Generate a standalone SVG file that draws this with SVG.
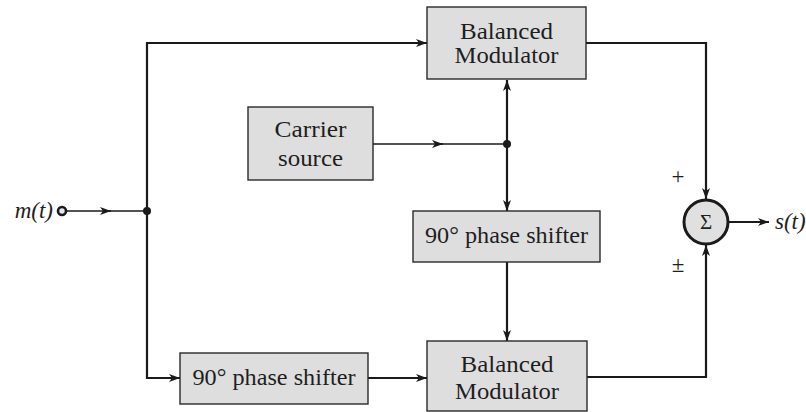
<svg xmlns="http://www.w3.org/2000/svg" width="806" height="412" viewBox="0 0 806 412">
  <style>
    .box { fill: #dedede; stroke: #2a2a2a; stroke-width: 1.4; }
    .lbl { font-family: "Liberation Serif", "Times New Roman", serif; font-size: 23px; fill: #1e1e1e; text-anchor: middle; }
    .sig { font-family: "Liberation Serif", "Times New Roman", serif; font-size: 23px; font-style: italic; fill: #1e1e1e; }
    .sign { font-family: "Liberation Serif", "Times New Roman", serif; font-size: 23px; fill: #1e1e1e; text-anchor: middle; }
    .wire { fill: none; stroke: #1a1a1a; stroke-width: 2.2; }
    .thin { fill: none; stroke: #1a1a1a; stroke-width: 1.4; }
    .dot { fill: #1a1a1a; }
  </style>
  <defs>
    <marker id="arrow" markerUnits="userSpaceOnUse" markerWidth="12" markerHeight="9" refX="11" refY="4" orient="auto">
      <path d="M0,0 L11,4 L0,8 L3,4 z" fill="#1a1a1a"/>
    </marker>
  </defs>

  <!-- connectors -->
  <g id="connectors">
    <!-- input line with mid arrow -->
    <path class="thin" d="M67,211 L111,211" marker-end="url(#arrow)"/>
    <path class="thin" d="M108,211 L147,211"/>
    <!-- upper branch to top modulator -->
    <path class="wire" d="M147,211 L147,43 L427,43" marker-end="url(#arrow)"/>
    <!-- lower branch to bottom phase shifter -->
    <path class="wire" d="M147,211 L147,378 L180,378" marker-end="url(#arrow)"/>
    <!-- bottom phase shifter to bottom modulator -->
    <path class="wire" d="M368,378 L427,378" marker-end="url(#arrow)"/>
    <!-- carrier line with mid arrow -->
    <path class="thin" d="M373,144 L443,144" marker-end="url(#arrow)"/>
    <path class="thin" d="M440,144 L507,144"/>
    <!-- carrier up to top modulator, down to middle phase shifter -->
    <path class="wire" d="M507,144 L507,80" marker-end="url(#arrow)"/>
    <path class="wire" d="M507,144 L507,211" marker-end="url(#arrow)"/>
    <!-- middle phase shifter to bottom modulator -->
    <path class="wire" d="M507,262 L507,341" marker-end="url(#arrow)"/>
    <!-- modulator outputs to summer -->
    <path class="wire" d="M586,43 L706,43 L706,199" marker-end="url(#arrow)"/>
    <path class="wire" d="M587,377 L706,377 L706,245" marker-end="url(#arrow)"/>
    <!-- summer output -->
    <path class="wire" d="M729,222 L769,222" marker-end="url(#arrow)"/>
    <!-- junction dots -->
    <circle class="dot" cx="147" cy="211" r="4"/>
    <circle class="dot" cx="507" cy="144" r="4"/>
  </g>

  <!-- input terminal -->
  <g id="input">
    <text class="sig" x="53" y="218" text-anchor="end">m(t)</text>
    <circle cx="62" cy="211" r="4" fill="#e6e6e6" stroke="#1a1a1a" stroke-width="2.6"/>
  </g>

  <g id="top-modulator">
    <rect class="box" x="427" y="7" width="159" height="72"/>
    <text class="lbl" x="506.5" y="39" textLength="93" lengthAdjust="spacingAndGlyphs">Balanced</text>
    <text class="lbl" x="506.5" y="63" textLength="104" lengthAdjust="spacingAndGlyphs">Modulator</text>
  </g>

  <g id="carrier-source">
    <rect class="box" x="248" y="107" width="125" height="73"/>
    <text class="lbl" x="310.5" y="137" textLength="72" lengthAdjust="spacingAndGlyphs">Carrier</text>
    <text class="lbl" x="310.5" y="166" textLength="65" lengthAdjust="spacingAndGlyphs">source</text>
  </g>

  <g id="mid-phase-shifter">
    <rect class="box" x="413" y="211" width="187" height="51"/>
    <text class="lbl" x="506.5" y="243" textLength="163" lengthAdjust="spacingAndGlyphs">90° phase shifter</text>
  </g>

  <g id="low-phase-shifter">
    <rect class="box" x="180" y="353" width="188" height="51"/>
    <text class="lbl" x="274" y="385" textLength="163" lengthAdjust="spacingAndGlyphs">90° phase shifter</text>
  </g>

  <g id="bottom-modulator">
    <rect class="box" x="427" y="341" width="160" height="70"/>
    <text class="lbl" x="507" y="372" textLength="93" lengthAdjust="spacingAndGlyphs">Balanced</text>
    <text class="lbl" x="507" y="399" textLength="104" lengthAdjust="spacingAndGlyphs">Modulator</text>
  </g>

  <g id="summer">
    <circle cx="706" cy="222" r="22" fill="#e0e0e0" stroke="#1a1a1a" stroke-width="3"/>
    <text class="lbl" x="706" y="229" style="font-size:21px">Σ</text>
    <text class="sign" x="678" y="184">+</text>
    <text class="sign" x="678" y="272">±</text>
  </g>

  <g id="output">
    <text class="sig" x="775" y="229">s(t)</text>
  </g>
</svg>
